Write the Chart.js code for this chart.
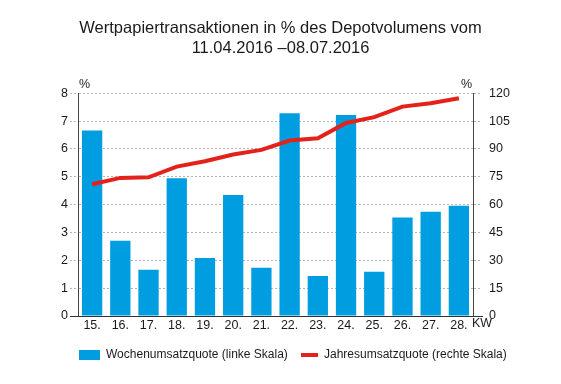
<!DOCTYPE html>
<html>
<head>
<meta charset="utf-8">
<script src="https://cdn.jsdelivr.net/npm/chart.js@4/dist/chart.umd.min.js"></script>
<style>
  html, body { margin: 0; padding: 0; background: #fff; }
  #wrap { width: 561px; height: 384px; position: relative; }
</style>
</head>
<body>
<div id="wrap"><canvas id="c" width="561" height="384"></canvas></div>
<script>
const titleLines = ["Wertpapiertransaktionen in % des Depotvolumens vom", "11.04.2016 \u201308.07.2016"];
const categories = ["15.", "16.", "17.", "18.", "19.", "20.", "21.", "22.", "23.", "24.", "25.", "26.", "27.", "28."];
const weeklyRate = [6.66, 2.70, 1.66, 4.95, 2.08, 4.35, 1.73, 7.28, 1.44, 7.22, 1.59, 3.54, 3.74, 3.96];
const annualRate = [71.0, 74.4, 74.7, 80.5, 83.4, 87.0, 89.5, 94.5, 95.7, 104.0, 107.1, 112.8, 114.6, 117.3];
const leftTicks = [0, 1, 2, 3, 4, 5, 6, 7, 8];
const rightTicks = [0, 15, 30, 45, 60, 75, 90, 105, 120];
const seriesNames = ["Wochenumsatzquote (linke Skala)", "Jahresumsatzquote (rechte Skala)"];
const unitLeft = "%";
const unitRight = "%";
const xUnit = "KW";

const BLUE = "#009ee0";
const RED = "#e3231b";
const TXT = "#1a1a1a";
const FONT = "'Liberation Sans Narrow', 'Liberation Sans', Arial, sans-serif";
const FONT_REG = "'Liberation Sans', Arial, sans-serif";

const extras = {
  id: "extras",
  afterDraw(chart) {
    const ctx = chart.ctx;
    const a = chart.chartArea;
    ctx.save();
    // bottom axis line (extends a little beyond both axes)
    ctx.strokeStyle = "#333";
    ctx.lineWidth = 1;
    ctx.beginPath();
    ctx.moveTo(a.left - 8, Math.round(a.bottom) + 0.5);
    ctx.lineTo(a.right + 10, Math.round(a.bottom) + 0.5);
    ctx.stroke();
    // unit labels
    ctx.fillStyle = TXT;
    ctx.font = "12.5px " + FONT;
    ctx.textBaseline = "middle";
    ctx.textAlign = "left";
    ctx.fillText(unitLeft, a.left + 1, a.top - 9);
    ctx.textAlign = "right";
    ctx.fillText(unitRight, a.right - 1, a.top - 9);
    ctx.textAlign = "left";
    ctx.fillText(xUnit, a.right - 1, a.bottom + 8);
    // legend
    const ly = 355;
    ctx.fillStyle = BLUE;
    ctx.fillRect(79, ly - 5, 21, 10);
    ctx.strokeStyle = RED;
    ctx.lineWidth = 4;
    ctx.beginPath();
    ctx.moveTo(301, ly);
    ctx.lineTo(318, ly);
    ctx.stroke();
    ctx.fillStyle = TXT;
    ctx.font = "12px " + FONT_REG;
    ctx.textAlign = "left";
    ctx.fillText(seriesNames[0], 106, ly);
    ctx.fillText(seriesNames[1], 324, ly);
    ctx.restore();
  }
};

new Chart(document.getElementById("c"), {
  data: {
    labels: categories,
    datasets: [
      {
        type: "line",
        label: seriesNames[1],
        data: annualRate,
        yAxisID: "y1",
        borderColor: RED,
        borderWidth: 4,
        pointRadius: 0,
        tension: 0,
        fill: false,
        order: 0
      },
      {
        type: "bar",
        label: seriesNames[0],
        data: weeklyRate,
        yAxisID: "y",
        backgroundColor: BLUE,
        borderWidth: 0,
        categoryPercentage: 1,
        barPercentage: 0.72,
        order: 1
      }
    ]
  },
  options: {
    responsive: false,
    animation: false,
    layout: { padding: { left: 0, right: 0, top: 0, bottom: 46 } },
    plugins: {
      legend: { display: false },
      tooltip: { enabled: false },
      title: {
        display: true,
        text: titleLines,
        color: TXT,
        font: { family: FONT_REG, size: 16.5, weight: "normal", lineHeight: 1.25 },
        padding: { top: 18, bottom: 34 }
      }
    },
    scales: {
      x: {
        grid: { display: false, drawTicks: false },
        border: { display: false },
        ticks: { color: TXT, font: { family: FONT, size: 12.5 }, padding: 2, autoSkip: false, maxRotation: 0 },
        afterFit(s) { s.height = 22; }
      },
      y: {
        position: "left",
        min: 0, max: 8,
        afterBuildTicks(s) { s.ticks = leftTicks.map(v => ({ value: v })); },
        grid: { color: "#b5b5b5", tickLength: 8, tickBorderDash: [2, 2], tickColor: "#b5b5b5" },
        border: { display: true, color: "#444", width: 1, dash: [2, 2] },
        ticks: { color: TXT, font: { family: FONT, size: 12.5 }, padding: 2 },
        afterFit(s) { s.width = 78; }
      },
      y1: {
        position: "right",
        min: 0, max: 120,
        afterBuildTicks(s) { s.ticks = rightTicks.map(v => ({ value: v })); },
        grid: { drawOnChartArea: false, color: "#b5b5b5", tickLength: 9, tickBorderDash: [2, 2], tickColor: "#b5b5b5" },
        border: { display: true, color: "#444", width: 1 },
        ticks: { color: TXT, font: { family: FONT, size: 12.5 }, padding: 7 },
        afterFit(s) { s.width = 88; }
      }
    }
  },
  plugins: [extras]
});
</script>
</body>
</html>
